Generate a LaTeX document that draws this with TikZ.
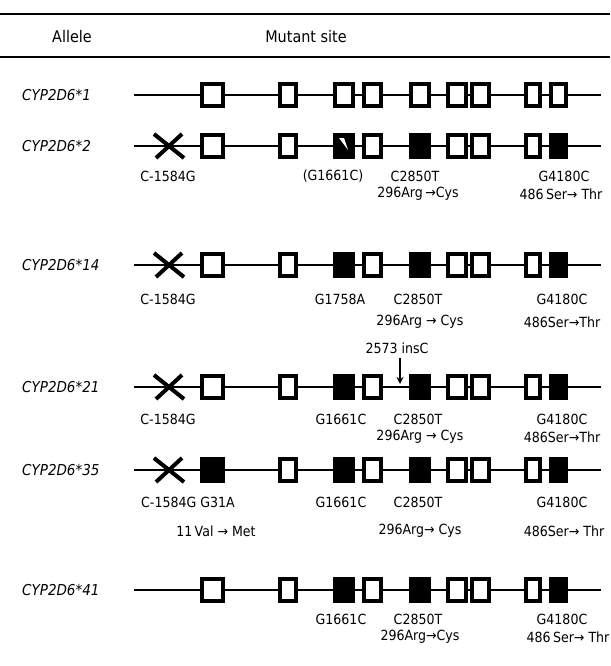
\documentclass[tikz,border=0pt]{standalone}
\usepackage{fontspec}
\setmainfont{DejaVu Sans}[FakeStretch=0.9]
\usetikzlibrary{arrows.meta,calc}

\tikzset{
  rule/.style={line width=2.2pt},
  geneline/.style={line width=1.4pt},
  exon/.style={draw, line width=3.8pt, inner sep=0pt, minimum height=22.5pt},
  delmark/.style={line width=4pt},
  lbl/.style={font=\fontsize{14}{14}\selectfont, inner sep=0pt},
  allele/.style={font=\fontsize{15}{15}\selectfont\itshape, anchor=west, inner sep=0pt},
  hdr/.style={font=\fontsize{16}{16}\selectfont, inner sep=0pt},
  insarrow/.style={line width=1.2pt, -{Stealth[length=7pt,width=7pt]}}
}

% #1 row name, #2 y position, #3 allele name, #4 exon fills (0 = open, 100 = solid)
\newcommand\generow[4]{%
  \node[allele] (#1lab) at (22,#2) {#3};
  \coordinate (#1s) at (134,#2);
  \coordinate (#1e) at (601,#2);
  \draw[geneline] (#1s) -- (#1e);
  \foreach \xl/\xr [count=\i] in {200/225,278/298,333/355,362/383,409/431,446/468,470/491,524/542,549/568}{
    \pgfmathtruncatemacro\shade{{#4}[\i-1]}
    \node[exon, fill=black!\shade, minimum width=\xr-\xl-3.8] (#1b\i) at ({(\xl+\xr)/2},#2) {};
  }
}

% upstream C-1584G deletion cross
\newcommand\deletionmark[2]{%
  \coordinate (#1x) at (169,#2);
  \draw[delmark] ($(#1x)+(-15,-12)$) -- ($(#1x)+(15,12)$);
  \draw[delmark] ($(#1x)+(-13,12)$) -- ($(#1x)+(13,-12)$);
}

\begin{document}
\begin{tikzpicture}[x=1pt,y=-1pt]
  \useasboundingbox (0,0) rectangle (610,666);
  \fill[white] (0,0) rectangle (610,666);

  % table header
  \coordinate (topL) at (0,14);   \coordinate (topR) at (610,14);
  \coordinate (midL) at (0,57);   \coordinate (midR) at (610,57);
  \draw[rule] (topL) -- (topR);
  \draw[rule, line width=1.8pt] (midL) -- (midR);
  \node[hdr] (hAllele) at (72,37) {Allele};
  \node[hdr] (hSite) at (306,37) {Mutant site};

  % *1
  \generow{ra}{95}{CYP2D6*1}{0,0,0,0,0,0,0,0,0}

  % *2
  \generow{rb}{146}{CYP2D6*2}{0,0,100,0,100,0,0,0,100}
  \deletionmark{rb}{146}
  \fill[white] ($(rbb3.center)+(-5,-8)$) -- ($(rbb3.center)+(0,-8)$) -- ($(rbb3.center)+(4,4)$) -- cycle;
  \node[lbl] (rbl1) at (168,176) {C-1584G};
  \node[lbl] (rbl2) at (333,176) {(G1661C)};
  \node[lbl] (rbl3) at (415,176) {C2850T};
  \node[lbl] (rbl4) at (564,176) {G4180C};
  \node[lbl] (rbl5) at (418,194) {296Arg\,→Cys};
  \node[lbl] (rbl6) at (561,194) {486\,Ser→ Thr};

  % *14
  \generow{rc}{265}{CYP2D6*14}{0,0,100,0,100,0,0,0,100}
  \deletionmark{rc}{265}
  \node[lbl] (rcl1) at (168,299) {C-1584G};
  \node[lbl] (rcl2) at (340,299) {G1758A};
  \node[lbl] (rcl3) at (418,299) {C2850T};
  \node[lbl] (rcl4) at (562,299) {G4180C};
  \node[lbl] (rcl5) at (420,322) {296Arg → Cys};
  \node[lbl] (rcl6) at (562,322) {486Ser→Thr};

  % *21
  \generow{rd}{387}{CYP2D6*21}{0,0,100,0,100,0,0,0,100}
  \deletionmark{rd}{387}
  \node[lbl] (insC) at (397,348) {2573 insC};
  \coordinate (rdins) at (400,384);
  \draw[insarrow] ($(insC.south -| rdins)+(0,4)$) -- (rdins);
  \node[lbl] (rdl1) at (168,419) {C-1584G};
  \node[lbl] (rdl2) at (341,419) {G1661C};
  \node[lbl] (rdl3) at (418,419) {C2850T};
  \node[lbl] (rdl4) at (562,419) {G4180C};
  \node[lbl] (rdl5) at (420,437) {296Arg → Cys};
  \node[lbl] (rdl6) at (562,437) {486Ser→Thr};

  % *35
  \generow{re}{470}{CYP2D6*35}{100,0,100,0,100,0,0,0,100}
  \deletionmark{re}{470}
  \node[lbl] (rel1) at (188,502) {C-1584G G31A};
  \node[lbl] (rel2) at (341,502) {G1661C};
  \node[lbl] (rel3) at (418,502) {C2850T};
  \node[lbl] (rel4) at (562,502) {G4180C};
  \node[lbl] (rel5) at (216,531) {11\,Val → Met};
  \node[lbl] (rel6) at (420,531) {296Arg→ Cys};
  \node[lbl] (rel7) at (564,531) {486Ser→ Thr};

  % *41
  \generow{rf}{590}{CYP2D6*41}{0,0,100,0,100,0,0,0,100}
  \node[lbl] (rfl1) at (341,619) {G1661C};
  \node[lbl] (rfl2) at (418,619) {C2850T};
  \node[lbl] (rfl3) at (562,619) {G4180C};
  \node[lbl] (rfl4) at (420,637) {296Arg→Cys};
  \node[lbl] (rfl5) at (568,637) {486\,Ser→ Thr};
\end{tikzpicture}
\end{document}
